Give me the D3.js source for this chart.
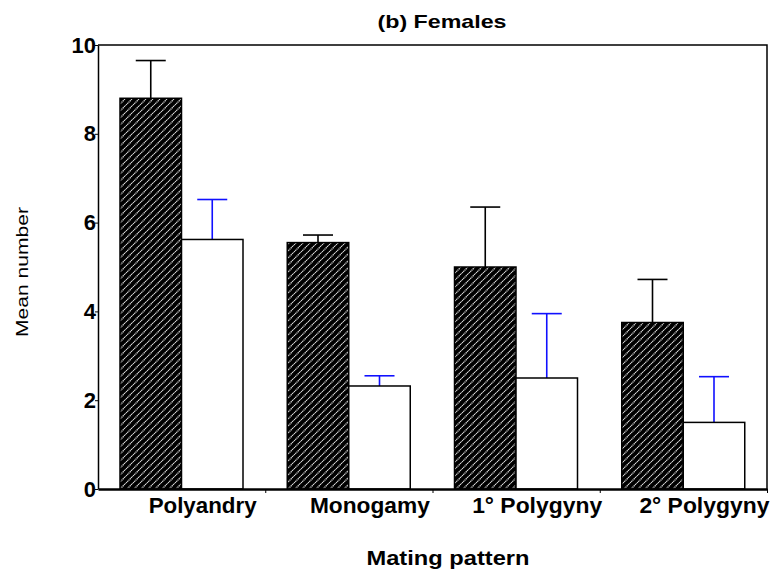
<!DOCTYPE html>
<html>
<head>
<meta charset="utf-8">
<script src="https://cdn.jsdelivr.net/npm/d3@7"></script>
<style>
body { margin: 0; background: #fff; }
text { font-family: "Liberation Sans", Arial, sans-serif; }
</style>
</head>
<body>
<script>
// data
var categories = ["Polyandry", "Monogamy", "1\u00b0 Polygyny", "2\u00b0 Polygyny"];
var series = ["hatched", "open"];
var hatchedMeans = [8.8, 5.55, 5.0, 3.75];
var hatchedErr = [9.65, 5.72, 6.35, 4.72];
var openMeans = [5.62, 2.32, 2.5, 1.5];
var openErr = [6.52, 2.55, 3.95, 2.53];
var yTicks = [0, 2, 4, 6, 8, 10];

var width = 774, height = 575;
var plot = { left: 98, right: 767, top: 45, bottom: 489 };

var svg = d3.select("body").append("svg")
    .attr("width", width)
    .attr("height", height);

// hatch pattern for the first series
var pat = svg.append("defs").append("pattern")
    .attr("id", "hatch")
    .attr("patternUnits", "userSpaceOnUse")
    .attr("width", 7)
    .attr("height", 7);
pat.append("rect").attr("width", 7).attr("height", 7).attr("fill", "#000");
pat.append("path")
    .attr("d", "M-1,1 L1,-1 M0,7 L7,0 M6,8 L8,6")
    .attr("stroke", "#d8d8d8")
    .attr("stroke-width", 1.3)
    .attr("stroke-dasharray", "1.2,0.6");

var x = d3.scaleBand()
    .domain(categories)
    .range([plot.left, plot.right])
    .padding(0);

var xSub = d3.scaleBand()
    .domain(series)
    .range([22, 145])
    .padding(0);

var y = d3.scaleLinear()
    .domain([0, 10])
    .range([plot.bottom, plot.top]);

var bounds = d3.scaleLinear()
    .domain([0, categories.length])
    .range([plot.left, plot.right]);

var rows = categories.map(function (c, i) {
    return [
        { cat: c, s: "hatched", v: hatchedMeans[i], e: hatchedErr[i] },
        { cat: c, s: "open", v: openMeans[i], e: openErr[i] }
    ];
}).flat();

// frame top + right
svg.append("path")
    .attr("d", "M" + plot.left + "," + plot.top + "H" + plot.right + "V" + plot.bottom)
    .attr("fill", "none")
    .attr("stroke", "#000")
    .attr("stroke-width", 1.5);

// error bars (drawn before bars so the stem starts on the bar top)
var err = svg.append("g").selectAll("g")
    .data(rows)
    .enter().append("g")
    .attr("stroke", function (d) { return d.s === "hatched" ? "#000" : "#1010ff"; })
    .attr("stroke-width", 1.6);

err.append("line")
    .attr("x1", function (d) { return x(d.cat) + xSub(d.s) + xSub.bandwidth() / 2; })
    .attr("x2", function (d) { return x(d.cat) + xSub(d.s) + xSub.bandwidth() / 2; })
    .attr("y1", function (d) { return y(d.v); })
    .attr("y2", function (d) { return y(d.e); });

err.append("line")
    .attr("x1", function (d) { return x(d.cat) + xSub(d.s) + xSub.bandwidth() / 2 - 15; })
    .attr("x2", function (d) { return x(d.cat) + xSub(d.s) + xSub.bandwidth() / 2 + 15; })
    .attr("y1", function (d) { return y(d.e); })
    .attr("y2", function (d) { return y(d.e); });

// bars
svg.append("g").selectAll("rect")
    .data(rows)
    .enter().append("rect")
    .attr("x", function (d) { return x(d.cat) + xSub(d.s); })
    .attr("y", function (d) { return y(d.v); })
    .attr("width", xSub.bandwidth())
    .attr("height", function (d) { return y(0) - y(d.v); })
    .attr("fill", function (d) { return d.s === "hatched" ? "url(#hatch)" : "#fff"; })
    .attr("stroke", "#000")
    .attr("stroke-width", 1.5);

// y axis
var yAxis = svg.append("g")
    .attr("transform", "translate(" + plot.left + ",0)")
    .call(d3.axisLeft(y).tickValues(yTicks).tickSize(3).tickSizeOuter(0).tickPadding(-1));
yAxis.select(".domain").attr("stroke-width", 1.5);
yAxis.selectAll("text")
    .attr("font-size", 22)
    .attr("font-weight", "bold")
    .attr("fill", "#000")
    .attr("font-family", "Liberation Sans, Arial, sans-serif");

// x axis: ticks at group boundaries
var xAxis = svg.append("g")
    .attr("transform", "translate(0," + plot.bottom + ")")
    .call(d3.axisBottom(bounds).tickValues([1, 2, 3, 4]).tickSize(4).tickSizeOuter(0).tickFormat(""));
xAxis.select(".domain").attr("stroke-width", 2.5);

var labelW = [108, 120, 130, 130];
svg.append("g").selectAll("text")
    .data(categories)
    .enter().append("text")
    .attr("x", function (d) { return x(d) + x.bandwidth() / 2 + 21; })
    .attr("y", 513)
    .attr("text-anchor", "middle")
    .attr("font-size", 22)
    .attr("font-weight", "bold")
    .attr("textLength", function (d, i) { return labelW[i]; })
    .attr("lengthAdjust", "spacingAndGlyphs")
    .text(function (d) { return d; });

// titles
svg.append("text")
    .attr("x", 442)
    .attr("y", 28)
    .attr("text-anchor", "middle")
    .attr("font-size", 19)
    .attr("font-weight", "bold")
    .attr("textLength", 129)
    .attr("lengthAdjust", "spacingAndGlyphs")
    .text("(b) Females");

svg.append("text")
    .attr("x", 448)
    .attr("y", 565)
    .attr("text-anchor", "middle")
    .attr("font-size", 21)
    .attr("font-weight", "bold")
    .attr("textLength", 163)
    .attr("lengthAdjust", "spacingAndGlyphs")
    .text("Mating pattern");

svg.append("text")
    .attr("transform", "translate(28,272) rotate(-90)")
    .attr("text-anchor", "middle")
    .attr("font-size", 17)
    .attr("textLength", 130)
    .attr("lengthAdjust", "spacingAndGlyphs")
    .text("Mean number");
</script>
</body>
</html>
